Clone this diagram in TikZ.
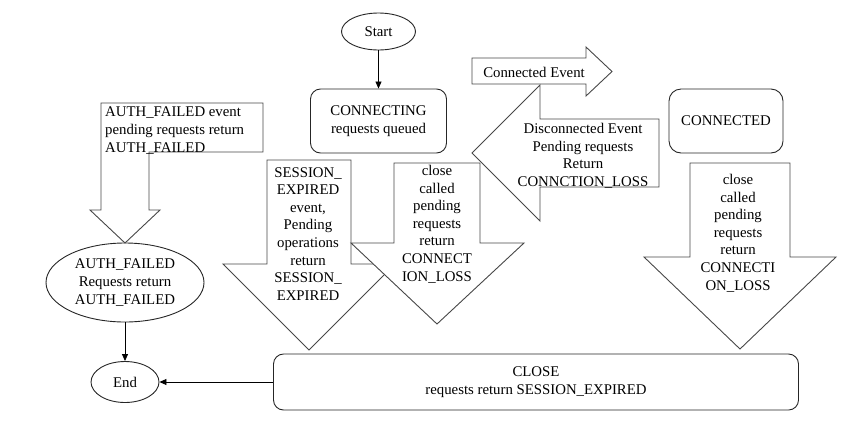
\documentclass[tikz,border=0pt]{standalone}
\usepackage{fontspec}
\setmainfont{Liberation Serif}
\newfontfamily\tnr{Liberation Serif}
\usetikzlibrary{shapes.geometric,arrows.meta}
\begin{document}
\begin{tikzpicture}[x=1pt,y=-1pt,
  txt/.style={font=\tnr\fontsize{14.8}{17.6}\selectfont, inner sep=0pt, align=center},
  blk/.style={draw=black!72, line width=0.9pt, fill=white},
  rbox/.style={txt, draw=black!85, line width=0.9pt, rounded corners=10pt, fill=white},
  oval/.style={txt, ellipse, draw=black!85, line width=0.9pt, fill=white},
  conn/.style={draw=black, line width=0.8pt, -{Triangle[length=7pt,width=6pt]}}]
\useasboundingbox (0,0) rectangle (856,424);

% state nodes
\node[oval, minimum width=74pt, minimum height=37pt] (start) at (378.5,31.5) {Start};
\node[rbox, minimum width=136pt, minimum height=64pt] (connecting) at (378.5,121) {CONNECTING\\requests queued};
\node[rbox, rounded corners=12pt, minimum width=114pt, minimum height=64pt] (connected) at (726,121) {CONNECTED};
\node[rbox, minimum width=525pt, minimum height=56pt] (close) at (536,382) {CLOSE\\requests return SESSION\_EXPIRED};
\node[oval, minimum width=158pt, minimum height=79pt] (authf) at (125,282.5) {AUTH\_FAILED\\Requests return\\AUTH\_FAILED};
\node[oval, minimum width=68pt, minimum height=41pt] (end) at (125,382) {End};

% block arrows
\draw[blk] (101,103) -- (263,103) -- (263,152) -- (149,152) -- (149,210) -- (160,210) -- (125,243) -- (90,210) -- (101,210) -- cycle;
\node[txt, align=left, anchor=north west] (authtxt) at (105,107) {AUTH\_FAILED event\\pending requests return\\AUTH\_FAILED};

\draw[blk] (472,58) -- (586,58) -- (586,47) -- (612,71.5) -- (586,96) -- (586,84) -- (472,84) -- cycle;
\node[txt] (cetxt) at (534,72) {Connected Event};

\draw[blk] (659,119) -- (540,119) -- (540,85) -- (472,153) -- (540,221) -- (540,187) -- (659,187) -- cycle;
\node[txt, anchor=north] (dctxt) at (583,123) {Disconnected Event\\Pending requests\\Return\\CONNCTION\_LOSS};

\draw[blk] (267,160) -- (351,160) -- (351,264) -- (395,264) -- (309,350) -- (223,264) -- (267,264) -- cycle;
\node[txt, anchor=north] (setxt) at (308,167) {SESSION\_\\EXPIRED\\event,\\Pending\\operations\\return\\SESSION\_\\EXPIRED};

\draw[blk] (394,163) -- (480,163) -- (480,243) -- (524,243) -- (437,324) -- (351,243) -- (394,243) -- cycle;
\node[txt, anchor=north] (cc1txt) at (437,165) {close\\called\\pending\\requests\\return\\CONNECT\\ION\_LOSS};

\draw[blk] (690,163) -- (790,163) -- (790,257) -- (836,257) -- (740,349) -- (644,257) -- (690,257) -- cycle;
\node[txt, anchor=north] (cc2txt) at (738,174) {close\\called\\pending\\requests\\return\\CONNECTI\\ON\_LOSS};

% connectors
\draw[conn] (start.south) -- (connecting.north);
\draw[conn] (authf.south) -- (end.north);
\draw[conn] (close.west) -- (end.east);
\end{tikzpicture}
\end{document}
